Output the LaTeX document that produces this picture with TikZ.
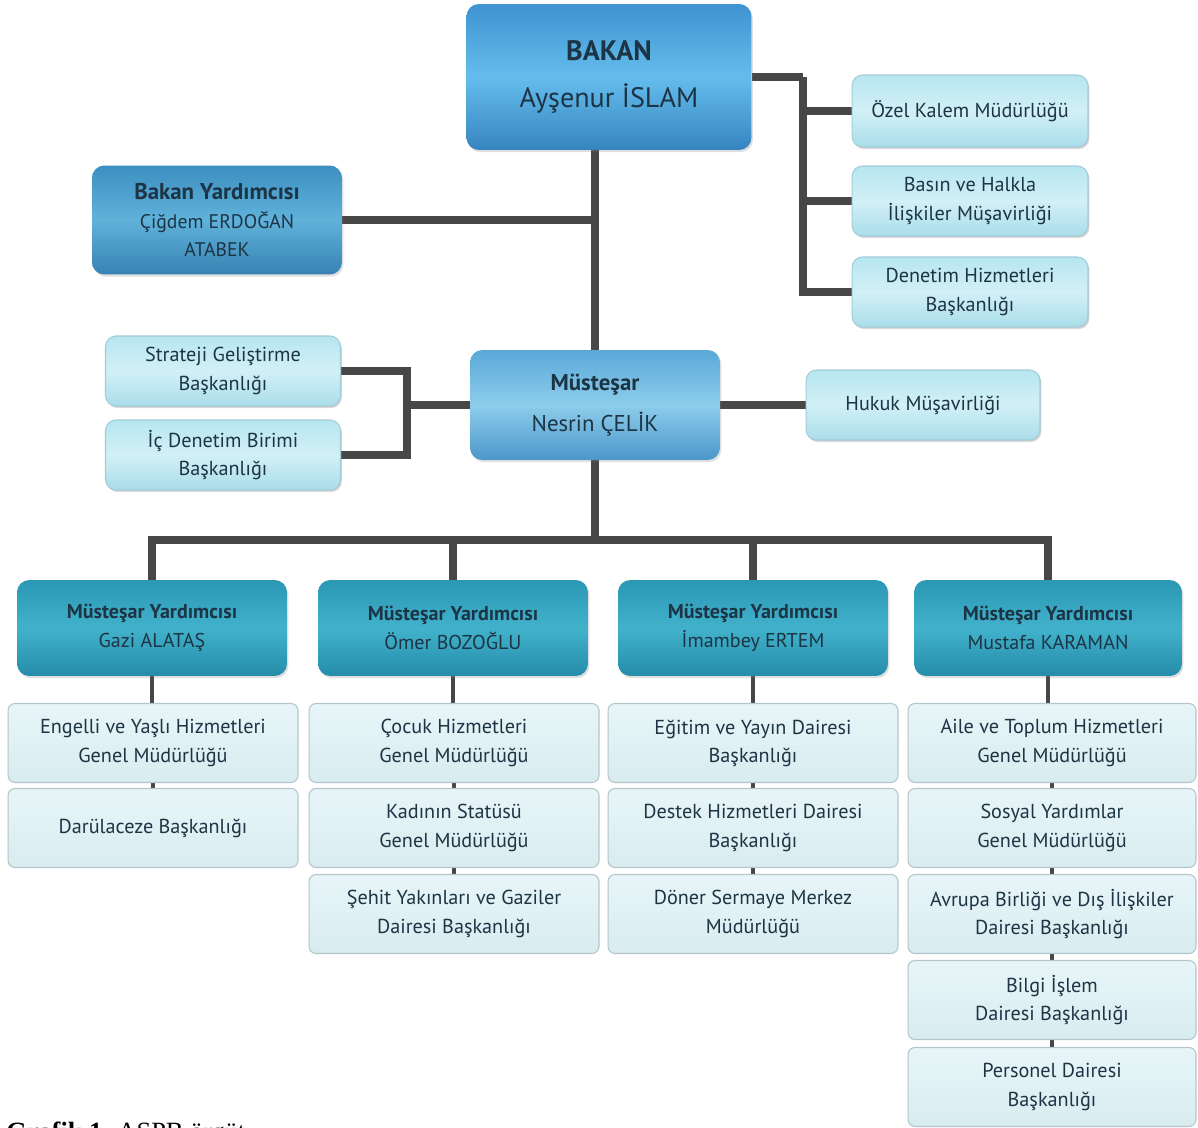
\documentclass[tikz,border=0pt]{standalone}
\usepackage{fontspec}
\setmainfont{PT Sans}
\newfontfamily\capfont{Liberation Serif}
\usepackage{tikz}
\usetikzlibrary{backgrounds,calc,shadows}

\definecolor{linegray}{HTML}{474747}
\definecolor{textdark}{HTML}{1D3445}
\definecolor{bakantop}{HTML}{3E93D0}
\definecolor{bakanmid}{HTML}{64BDEC}
\definecolor{bakanbot}{HTML}{3784C0}
\definecolor{bytop}{HTML}{3C8FC0}
\definecolor{bymid}{HTML}{60B2DA}
\definecolor{bybot}{HTML}{3782B2}
\definecolor{mustop}{HTML}{5AA8D8}
\definecolor{musmid}{HTML}{8DCDEB}
\definecolor{musbot}{HTML}{4B96CA}
\definecolor{mytop}{HTML}{2A97B4}
\definecolor{mymid}{HTML}{42B2CB}
\definecolor{mybot}{HTML}{258CAA}
\definecolor{lighttop}{HTML}{B7E6F0}
\definecolor{lightmid}{HTML}{D2F0F6}
\definecolor{lightbot}{HTML}{A9DDEA}
\definecolor{lightborder}{HTML}{A3CDD8}
\definecolor{subtop}{HTML}{E8F5F8}
\definecolor{subbot}{HTML}{D8ECF0}
\definecolor{subborder}{HTML}{B4C6CB}

\tikzset{
  unitbox/.style={rounded corners=7pt, align=center, inner sep=0pt, text=textdark,
    drop shadow={opacity=0.25, shadow xshift=0.8pt, shadow yshift=-1.2pt}},
  bakanbox/.style={unitbox, minimum width=5.7cm, minimum height=2.92cm,
    top color=bakantop, bottom color=bakanbot, middle color=bakanmid,
    font=\fontsize{16}{27}\selectfont},
  bybox/.style={unitbox, minimum width=5cm, minimum height=2.18cm,
    top color=bytop, bottom color=bybot, middle color=bymid,
    font=\fontsize{11.2}{15.5}\selectfont},
  musbox/.style={unitbox, minimum width=5cm, minimum height=2.2cm,
    top color=mustop, bottom color=musbot, middle color=musmid,
    font=\fontsize{13}{23}\selectfont},
  mybox/.style={unitbox, minimum width=5.4cm, minimum height=1.92cm,
    top color=mytop, bottom color=mybot, middle color=mymid,
    font=\fontsize{11.4}{16.4}\selectfont},
  lightbox/.style={unitbox, rounded corners=6pt, draw=lightborder, line width=0.6pt,
    minimum width=4.7cm, minimum height=1.4cm,
    top color=lighttop, bottom color=lightbot, middle color=lightmid,
    font=\fontsize{11.5}{16}\selectfont, drop shadow={opacity=0.15, shadow xshift=0.6pt, shadow yshift=-0.8pt}},
  subbox/.style={rounded corners=4pt, align=center, inner sep=0pt, text=textdark,
    draw=subborder, line width=0.6pt, minimum width=5.8cm, minimum height=1.58cm,
    top color=subtop, bottom color=subbot, font=\fontsize{11.5}{16}\selectfont},
  mainline/.style={draw=linegray, line width=4pt},
  subline/.style={draw=linegray, line width=2.8pt},
}

\begin{document}
\begin{tikzpicture}[x=0.02cm, y=-0.02cm]
\path[use as bounding box] (0,0) rectangle (1198,1128);

% top level
\node[bakanbox] (bakan) at (609,77) {{\bfseries BAKAN}\\ Ayşenur İSLAM};
\node[bybox] (byard) at (217,220) {{\fontsize{13}{15.5}\selectfont\bfseries Bakan Yardımcısı}\\[1pt] Çiğdem ERDOĞAN\\ ATABEK};
\node[lightbox, minimum width=4.72cm, minimum height=1.44cm] (ozel) at (970,111) {Özel Kalem Müdürlüğü};
\node[lightbox, minimum width=4.72cm] (basin) at (970,201) {Basın ve Halkla\\ İlişkiler Müşavirliği};
\node[lightbox, minimum width=4.72cm] (denetim) at (970,292) {Denetim Hizmetleri\\ Başkanlığı};

% mustesar
\node[musbox] (mustesar) at (595,405) {{\bfseries Müsteşar}\\ Nesrin ÇELİK};
\node[lightbox, minimum width=4.68cm] (hukuk) at (923,405) {Hukuk Müşavirliği};
\node[lightbox] (strateji) at (223,371) {Strateji Geliştirme\\ Başkanlığı};
\node[lightbox] (icdenetim) at (223,455) {İç Denetim Birimi\\ Başkanlığı};

% mustesar yardimcilari
\node[mybox] (my1) at (152,628) {{\bfseries Müsteşar Yardımcısı}\\ Gazi ALATAŞ};
\node[mybox] (my2) at (453,628) {{\bfseries Müsteşar Yardımcısı}\\ Ömer BOZOĞLU};
\node[mybox] (my3) at (753,628) {{\bfseries Müsteşar Yardımcısı}\\ İmambey ERTEM};
\node[mybox, minimum width=5.36cm] (my4) at (1048,628) {{\bfseries Müsteşar Yardımcısı}\\ Mustafa KARAMAN};

% birimler
\node[subbox] (s11) at (153,743) {Engelli ve Yaşlı Hizmetleri\\ Genel Müdürlüğü};
\node[subbox] (s12) at (153,828) {Darülaceze Başkanlığı};
\node[subbox] (s21) at (454,743) {Çocuk Hizmetleri\\ Genel Müdürlüğü};
\node[subbox] (s22) at (454,828) {Kadının Statüsü\\ Genel Müdürlüğü};
\node[subbox] (s23) at (454,914) {Şehit Yakınları ve Gaziler\\ Dairesi Başkanlığı};
\node[subbox] (s31) at (753,743) {Eğitim ve Yayın Dairesi\\ Başkanlığı};
\node[subbox] (s32) at (753,828) {Destek Hizmetleri Dairesi\\ Başkanlığı};
\node[subbox] (s33) at (753,914) {Döner Sermaye Merkez\\ Müdürlüğü};
\node[subbox, minimum width=5.76cm] (s41) at (1052,743) {Aile ve Toplum Hizmetleri\\ Genel Müdürlüğü};
\node[subbox, minimum width=5.76cm] (s42) at (1052,828) {Sosyal Yardımlar\\ Genel Müdürlüğü};
\node[subbox, minimum width=5.76cm] (s43) at (1052,914) {Avrupa Birliği ve Dış İlişkiler\\ Dairesi Başkanlığı};
\node[subbox, minimum width=5.76cm] (s44) at (1052,1000) {Bilgi İşlem\\ Dairesi Başkanlığı};
\node[subbox, minimum width=5.76cm] (s45) at (1052,1087) {Personel Dairesi\\ Başkanlığı};

\node[anchor=base west, inner sep=0pt, font=\capfont\fontsize{15}{18}\selectfont] (caption) at (6,1140) {\textbf{Grafik 1.} ASPB örgüt};

% connectors
\begin{scope}[on background layer]
\fill[white] (0,0) rectangle (1198,1128);
\coordinate (rbus) at (803,77);
\coordinate (lbus) at (407,405);
\coordinate (hbus) at (595,540);
\draw[mainline] (mustesar.north) -- (mustesar.north |- bakan.south);
\draw[mainline] (byard.east) -- (byard.east -| mustesar.north);
\draw[mainline] (bakan.east) -- (rbus);
\draw[mainline] (rbus) |- (ozel.west);
\draw[mainline] (rbus) |- (basin.west);
\draw[mainline] (rbus) |- (denetim.west);
\draw[mainline] (mustesar.east) -- (hukuk.west);
\draw[mainline] (strateji.east) -| (lbus);
\draw[mainline] (icdenetim.east) -| (lbus);
\draw[mainline] (lbus) -- (mustesar.west);
\draw[mainline] (mustesar.south) -- (hbus);
\draw[mainline] (my1.north) |- (hbus);
\draw[mainline] (my2.north) |- (hbus);
\draw[mainline] (my3.north) |- (hbus);
\draw[mainline] (my4.north) |- (hbus);
\draw[subline] (my1.south) -- (my1.south |- s11.north);
\draw[subline] (my2.south) -- (my2.south |- s21.north);
\draw[subline] (my3.south) -- (my3.south |- s31.north);
\draw[subline] (my4.south) -- (my4.south |- s41.north);
\draw[subline] (s11.south) -- (s12.north);
\draw[subline] (s21.south) -- (s22.north);
\draw[subline] (s22.south) -- (s23.north);
\draw[subline] (s31.south) -- (s32.north);
\draw[subline] (s32.south) -- (s33.north);
\draw[subline] (s41.south) -- (s42.north);
\draw[subline] (s42.south) -- (s43.north);
\draw[subline] (s43.south) -- (s44.north);
\draw[subline] (s44.south) -- (s45.north);
\end{scope}
\end{tikzpicture}
\end{document}
